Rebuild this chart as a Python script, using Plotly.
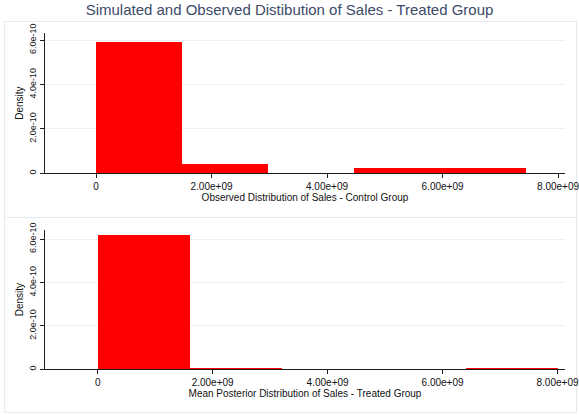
import plotly.graph_objects as go
import numpy as np

# Histogram bins and densities (bar heights) for each panel
control_edges = [0.0, 1.49e9, 2.98e9, 4.47e9, 5.96e9, 7.45e9]
control_density = [5.90e-10, 0.42e-10, 0.0, 0.225e-10, 0.225e-10]

treated_edges = [0.0, 1.6e9, 3.2e9, 4.8e9, 6.4e9, 8.0e9]
treated_density = [6.18e-10, 0.05e-10, 0.0, 0.0, 0.05e-10]

x_tickvals = [0, 2e9, 4e9, 6e9, 8e9]
x_ticktext = ["0", "2.00e+09", "4.00e+09", "6.00e+09", "8.00e+09"]
y_tickvals = [0, 2e-10, 4e-10, 6e-10]
y_ticktext = ["0", "2.0e-10", "4.0e-10", "6.0e-10"]

title_text = "Simulated and Observed Distibution of Sales - Treated Group"
top_xtitle = "Observed Distribution of Sales - Control Group"
bottom_xtitle = "Mean Posterior Distribution of Sales - Treated Group"

W, H = 579, 415
FONT = "Liberation Sans, Arial, sans-serif"
BAR_RED = "#ff0000"
AXIS_COLOR = "#1e1e1e"
GRID_COLOR = "#eaf1f3"
FRAME_COLOR = "#e3ebee"


def centers_widths(edges):
    e = np.asarray(edges, dtype=float)
    return (e[:-1] + e[1:]) / 2, np.diff(e)


fig = go.Figure()

for edges, dens, xa, ya in [
    (control_edges, control_density, "x", "y"),
    (treated_edges, treated_density, "x2", "y2"),
]:
    c, w = centers_widths(edges)
    fig.add_trace(go.Bar(
        x=c, y=dens, width=w, xaxis=xa, yaxis=ya,
        marker=dict(color=BAR_RED, line=dict(width=0)),
        showlegend=False, hoverinfo="x+y",
    ))


def px_x(px):
    return px / W


def px_y(py):
    return 1 - py / H


def xaxis_cfg(rng, title, anchor):
    return dict(
        domain=[px_x(45), px_x(565)], range=rng, anchor=anchor,
        automargin=False, ticklabeloverflow="allow",
        tickvals=x_tickvals, ticktext=x_ticktext,
        showline=True, linecolor=AXIS_COLOR, linewidth=1,
        ticks="outside", ticklen=4, tickcolor=AXIS_COLOR, tickwidth=1,
        showgrid=False, zeroline=False,
        tickfont=dict(family=FONT, size=10, color="#111111"),
        title=dict(text=title, standoff=0,
                   font=dict(family=FONT, size=10, color="#111111")),
        fixedrange=True,
    )


def yaxis_cfg(dom, rng, anchor):
    return dict(
        domain=dom, range=rng, anchor=anchor,
        automargin=False,
        tickvals=y_tickvals, ticktext=y_ticktext, tickangle=-90,
        showline=True, linecolor=AXIS_COLOR, linewidth=1,
        ticks="outside", ticklen=4, tickcolor=AXIS_COLOR, tickwidth=1,
        showgrid=True, gridcolor=GRID_COLOR, gridwidth=1, zeroline=False,
        tickfont=dict(family=FONT, size=9, color="#111111"),
        title=dict(text="Density", standoff=2,
                   font=dict(family=FONT, size=10, color="#111111")),
        fixedrange=True,
    )


fig.update_layout(
    width=W, height=H,
    margin=dict(l=0, r=0, t=0, b=0),
    paper_bgcolor="white", plot_bgcolor="white",
    bargap=0,
    title=dict(text=title_text, x=0.5, xanchor="center",
               y=px_y(10), yanchor="middle", yref="paper",
               font=dict(family=FONT, size=15, color="#3b4a68")),
    xaxis=xaxis_cfg([-0.883e9, 8.12e9], top_xtitle, "y"),
    yaxis=yaxis_cfg([px_y(173.3), px_y(33)], [0, 6.32e-10], "x"),
    xaxis2=xaxis_cfg([-0.917e9, 8.13e9], bottom_xtitle, "y2"),
    yaxis2=yaxis_cfg([px_y(369.3), px_y(230)], [0, 6.42e-10], "x2"),
    shapes=[
        dict(type="rect", xref="paper", yref="paper",
             x0=px_x(4.5), x1=px_x(576.5), y0=px_y(217.5), y1=px_y(21.5),
             line=dict(color=FRAME_COLOR, width=1), layer="below"),
        dict(type="rect", xref="paper", yref="paper",
             x0=px_x(4.5), x1=px_x(576.5), y0=px_y(412.5), y1=px_y(217.5),
             line=dict(color=FRAME_COLOR, width=1), layer="below"),
    ],
)

fig.write_html("out.html")
